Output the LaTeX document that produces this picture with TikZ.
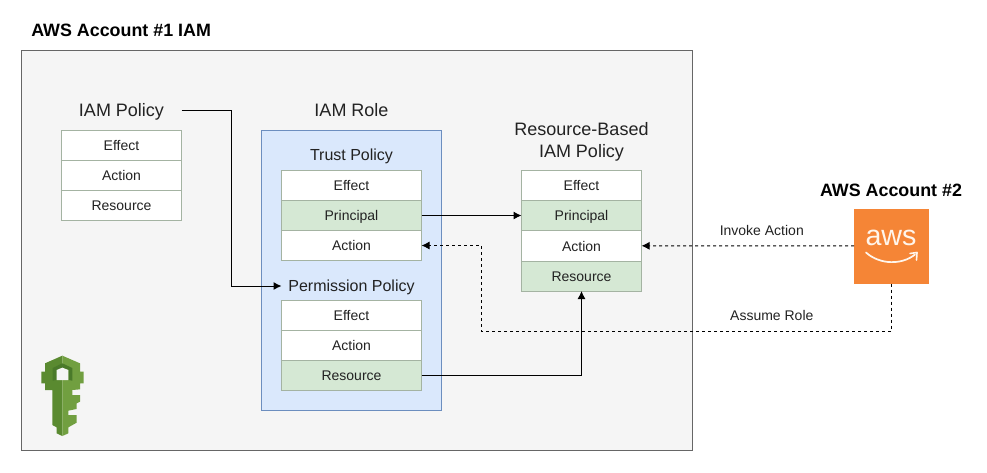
\documentclass[tikz,border=0pt]{standalone}
\usepackage{fontspec}
\setmainfont{Liberation Sans}
\usepackage{tikz}
\usetikzlibrary{arrows.meta}
\definecolor{panelgray}{HTML}{F5F5F5}
\definecolor{panelline}{HTML}{666666}
\definecolor{rolefill}{HTML}{DAE8FC}
\definecolor{roleline}{HTML}{6C8EBF}
\definecolor{cellgreen}{HTML}{D5E8D4}
\definecolor{cellline}{HTML}{A4B3A2}
\definecolor{awsorange}{HTML}{F58536}
\definecolor{keydark}{HTML}{5A8A30}
\definecolor{keylight}{HTML}{719F40}
\definecolor{keyrim}{HTML}{4A7A2A}
\definecolor{inktext}{HTML}{222222}
\tikzset{
    panel/.style={draw=panelline,fill=panelgray,line width=0.75pt,inner sep=0pt},
    rolebox/.style={draw=roleline,fill=rolefill,line width=0.75pt,inner sep=0pt},
    rowcell/.style={draw=cellline,fill=white,line width=0.75pt,inner sep=0pt,outer sep=0pt,
        minimum height=22.5pt,text height=8.5pt,text depth=0.5pt,
        font=\fontsize{10.5}{12}\selectfont,text=inktext},
    greencell/.style={rowcell,fill=cellgreen},
    titlelabel/.style={inner sep=0pt,outer sep=0pt,align=center,
        font=\fontsize{13.5}{16.5}\selectfont,text=inktext},
    sublabel/.style={titlelabel,font=\fontsize{12}{15}\selectfont,text height=9.2pt,text depth=1pt},
    headlabel/.style={inner sep=0pt,font=\bfseries\fontsize{13.4}{15}\selectfont,text=black},
    linklabel/.style={inner sep=0pt,font=\fontsize{10.5}{12}\selectfont,text=inktext},
    link/.style={line width=0.75pt,-{Latex[length=6pt,width=6pt]}},
    dashlink/.style={link,dash pattern=on 2.25pt off 2.25pt}
}
% name, centre x, centre y, width (pt), style, text
\newcommand{\rowbox}[6]{\node[#5,minimum width=#4pt] (#1) at (#2,#3) {#6};}
\begin{document}
\begin{tikzpicture}[x=0.75pt,y=-0.75pt]
    \useasboundingbox (0,0) rectangle (987,472);

    \draw[panel] (21.5,50.5) rectangle (692,450);
    \draw[rolebox] (261.5,130.5) rectangle (441.5,410.5);

    \node[headlabel,anchor=west] (accountone) at (31,30) {AWS Account \#1 IAM};
    \node[headlabel] (accounttwo) at (891,190) {AWS Account \#2};

    % IAM policy
    \node[titlelabel,minimum width=90pt,text height=10pt,text depth=1pt] (iampolicy) at (121.5,110) {IAM Policy};
    \rowbox{ipeffect}{121.5}{145.5}{90}{rowcell}{Effect}
    \rowbox{ipaction}{121.5}{175.5}{90}{rowcell}{Action}
    \rowbox{ipresource}{121.5}{205.5}{90}{rowcell}{Resource}

    % IAM role
    \node[titlelabel,text height=10pt,text depth=1pt] (iamrole) at (351.5,110) {IAM Role};
    \node[sublabel] (trustpolicy) at (351.5,155) {Trust Policy};
    \rowbox{tpeffect}{351.5}{185.5}{105}{rowcell}{Effect}
    \rowbox{tpprincipal}{351.5}{215.5}{105}{greencell}{Principal}
    \rowbox{tpaction}{351.5}{245.5}{105}{rowcell}{Action}

    \node[sublabel,minimum width=105pt] (permpolicy) at (351.5,286) {Permission Policy};
    \rowbox{ppeffect}{351.5}{315.5}{105}{rowcell}{Effect}
    \rowbox{ppaction}{351.5}{345.5}{105}{rowcell}{Action}
    \rowbox{ppresource}{351.5}{375.5}{105}{greencell}{Resource}

    % resource based
    \node[titlelabel] (rbpolicy) at (581.5,141.5) {Resource-Based\\IAM Policy};
    \rowbox{rbeffect}{581.5}{185.5}{90}{rowcell}{Effect}
    \rowbox{rbprincipal}{581.5}{215.5}{90}{greencell}{Principal}
    \rowbox{rbaction}{581.5}{245.75}{90}{rowcell,minimum height=22.875pt}{Action}
    \rowbox{rbresource}{581.5}{276}{90}{greencell}{Resource}

    % aws logo
    \node[fill=awsorange,minimum size=56.25pt,inner sep=0pt,outer sep=0pt] (awslogo) at (891.5,246) {};
    \node[inner sep=0pt,text=white!92!orange,font=\fontsize{21.5}{22}\selectfont] (awsword) at (891,238) {aws};
    \draw[white!92!orange,line width=1.3pt,line cap=round] (866,252.5) .. controls (880,265) and (902,265) .. (915,254.5);
    \draw[white!92!orange,line width=1.2pt,line cap=round,line join=round] (910,253.5) -- (917,252.5) -- (916.5,260);

    % key
    \begin{scope}[shift={(0,340)},x=0.25pt,y=-0.25pt]
        \fill[keydark] (187,47) -- (135,70) -- (135,95) -- (124,95) -- (124,130) -- (135,130) -- (135,150)
            -- (157,150) -- (157,255) -- (170,262) -- (170,280) -- (187,288) -- cycle;
        \fill[keylight] (187,47) -- (240,70) -- (240,95) -- (251,95) -- (251,130) -- (240,130) -- (240,148)
            -- (217,150) -- (217,165) -- (240,165) -- (240,185) -- (230,190) -- (230,207) -- (205,212)
            -- (205,225) -- (230,225) -- (230,248) -- (205,262) -- (205,280) -- (187,288) -- cycle;
        \fill[keyrim] (187,70) -- (158,84) -- (158,122) -- (170,120) -- (170,90) -- (187,83) -- (205,90)
            -- (205,120) -- (217,122) -- (217,84) -- cycle;
        \fill[panelgray] (187,83) -- (170,90) -- (170,120) -- (205,120) -- (205,90) -- cycle;
    \end{scope}

    % connectors
    \coordinate (bendtop) at (231.5,110);
    \coordinate (bendleft) at (481.5,331);
    \draw[link] (iampolicy.east) -- (bendtop) |- (permpolicy.west);
    \draw[link] (tpprincipal) -- (rbprincipal);
    \draw[link] (ppresource) -| (rbresource);
    \draw[dashlink] (awslogo) -- node[linklabel,pos=0.434,yshift=11.5pt] (invoke) {Invoke Action} (rbaction);
    \draw[dashlink] (awslogo) |- node[linklabel,pos=0.646,yshift=11.5pt] (assume) {Assume Role} (bendleft) |- (tpaction);
\end{tikzpicture}
\end{document}
